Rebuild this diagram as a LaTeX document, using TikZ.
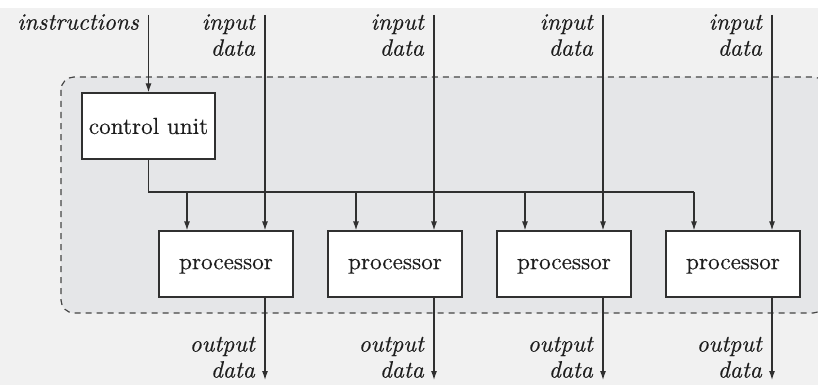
\documentclass[tikz,border=0pt]{standalone}
\usepackage{fontspec}
\usetikzlibrary{arrows.meta}
% slightly heavier Latin Modern for the labels
\newfontfamily\heavyrm{lmroman10-regular.otf}[FakeBold=0.4]
\newfontfamily\heavyit{lmroman10-italic.otf}[FakeBold=0.4]
\definecolor{pagegray}{HTML}{F1F1F1}
\definecolor{panelgray}{HTML}{E5E6E8}
\definecolor{ink}{HTML}{303030}
\definecolor{textink}{HTML}{1E1E1E}
\begin{document}
\begin{tikzpicture}[x=1pt,y=-1pt,
  font=\heavyrm\fontsize{23.2}{25}\selectfont,
  ln/.style={draw=ink,line width=1.2pt},
  arr/.style={ln,-{Latex[length=9pt,width=6pt]}},
  unitbox/.style={draw=ink,fill=white,line width=1.2pt,inner sep=0pt,text=textink},
  lbl/.style={anchor=north east,align=right,inner sep=0pt,text=textink,
    font=\heavyit\fontsize{23.6}{26}\selectfont}]
  % page background
  \fill[white] (0,0) rectangle (818,385);
  \fill[pagegray] (0,8) rectangle (818,385);
  \useasboundingbox (0,0) rectangle (818,385);
  % dashed panel holding the SIMD array
  \draw[fill=panelgray,dash pattern=on 6pt off 5pt,rounded corners=13pt,line width=1.2pt,draw=ink!90]
    (61,77) rectangle (826,313);

  % control unit
  \node[unitbox,minimum width=133pt,minimum height=66pt] (cu) at (148.5,126) {control unit};
  % processors
  \foreach \i/\cx in {1/226,2/395,3/564,4/733}{
    \node[unitbox,minimum width=134pt,minimum height=66pt,text depth=0pt] (p\i) at (\cx,264) {processor};
  }

  % instruction stream
  \coordinate (ins) at (148.5,15);
  \draw[arr] (ins) -- (cu.north);
  \node[lbl] (inslbl) at (139,14) {instructions};

  % broadcast bus from the control unit
  \coordinate (b1) at (187,192);
  \coordinate (b2) at (356,192);
  \coordinate (b3) at (525,192);
  \coordinate (b4) at (694,192);
  \draw[ln] (cu.south) |- (b4);
  \foreach \i in {1,2,3,4}{
    \draw[arr] (b\i) -- (b\i |- p\i.north);
  }

  % data streams in and out of each processor
  \foreach \i/\lx in {1/265,2/434,3/603,4/772}{
    \coordinate (in\i) at (\lx,15);
    \coordinate (out\i) at (\lx,380);
    \draw[arr] (in\i) -- (in\i |- p\i.north);
    \draw[arr] (in\i |- p\i.south) -- (out\i);
    \node[lbl] (inl\i) at (\lx-10,14) {input\\data};
    \node[lbl,anchor=south east] (outl\i) at (\lx-10,378) {output\\data};
  }
\end{tikzpicture}
\end{document}
